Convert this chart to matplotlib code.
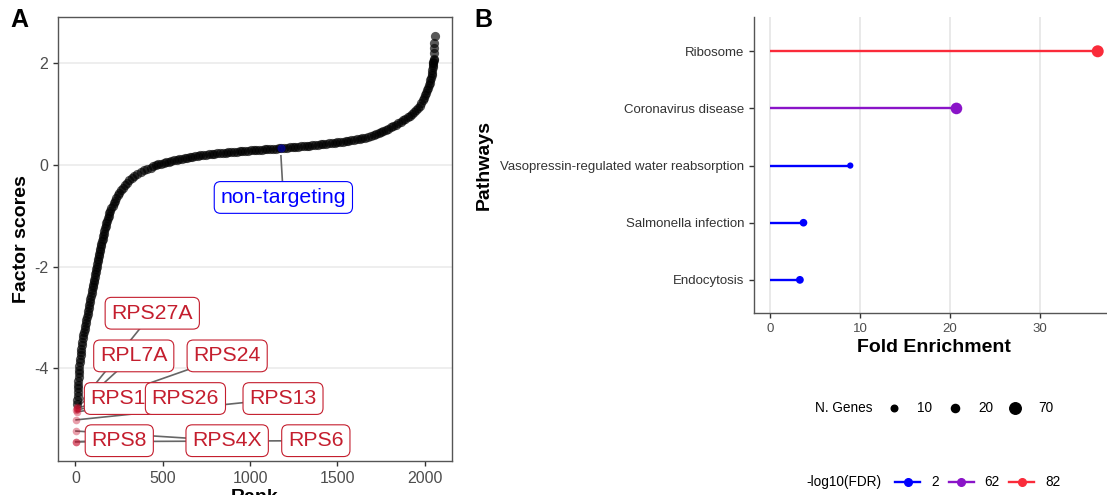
import numpy as np
import matplotlib.pyplot as plt
from matplotlib.lines import Line2D

plt.rcParams['font.family'] = ['Liberation Sans', 'DejaVu Sans']
plt.rcParams['axes.unicode_minus'] = False

# ---- panel A data: ranked factor scores ----
ranks = [10, 11, 12, 13, 14, 15, 16, 18, 19, 21, 23, 25, 27, 29, 31, 34, 37, 40, 43, 46,
         49, 52, 56, 60, 63, 67, 70, 74, 77, 80, 83, 86, 89, 92, 95, 98, 101, 104, 107, 110,
         113, 116, 119, 122, 125, 128, 131, 134, 137, 140, 143, 146, 149, 152, 155, 158, 162,
         165, 169, 173, 177, 181, 185, 190, 195, 200, 206, 213, 220, 227, 235, 243, 252, 261,
         271, 282, 294, 307, 322, 338, 355, 373, 392, 412,
         430, 445, 460, 475, 490, 505, 520, 535, 550, 565, 580, 595, 610, 625, 640, 655, 670,
         685, 700, 716, 732, 748, 764, 780, 796, 812, 828, 844, 860, 876, 892, 908, 924, 940,
         956, 972, 988, 1004, 1020, 1036, 1052, 1068, 1084, 1100, 1116, 1132, 1148, 1164,
         1180, 1196, 1212, 1228, 1244, 1260, 1276, 1292, 1308, 1324, 1340, 1356, 1372, 1388,
         1404, 1420, 1436, 1452, 1468, 1484, 1500, 1516, 1532, 1548, 1564, 1580, 1596, 1612,
         1628, 1644, 1660, 1676, 1692, 1708, 1722, 1736, 1750, 1764, 1778, 1792, 1806, 1820,
         1834, 1848, 1862, 1876, 1890, 1904, 1918, 1930, 1942, 1952,
         1962, 1972, 1981, 1989, 1996, 2003, 2009, 2015, 2020, 2025, 2029, 2033, 2037, 2040,
         2043, 2045, 2047, 2049, 2050, 2051, 2052, 2053, 2054, 2055, 2056, 2057]
scores = [-4.70, -4.62, -4.55, -4.47, -4.40, -4.33, -4.26, -4.18, -4.10, -4.03, -3.96, -3.89,
          -3.82, -3.75, -3.69, -3.62, -3.55, -3.48, -3.41, -3.35, -3.29, -3.23, -3.17, -3.11,
          -3.05, -2.99, -2.94, -2.88, -2.82, -2.76, -2.70, -2.64, -2.58, -2.52, -2.46, -2.41,
          -2.36, -2.31, -2.26, -2.21, -2.15, -2.10, -2.05, -2.00, -1.95, -1.90, -1.85, -1.80,
          -1.75, -1.70, -1.65, -1.60, -1.55, -1.50, -1.45, -1.40, -1.35, -1.30, -1.25, -1.20,
          -1.15, -1.10, -1.05, -1.00, -0.95, -0.90, -0.85, -0.80, -0.75, -0.70, -0.65, -0.60,
          -0.55, -0.50, -0.45, -0.40, -0.35, -0.30, -0.25, -0.21, -0.17, -0.13, -0.10, -0.07,
          -0.05, -0.03, -0.01, 0.01, 0.02, 0.04, 0.05, 0.06, 0.08, 0.09, 0.10, 0.11, 0.12,
          0.13, 0.14, 0.15, 0.16, 0.17, 0.18, 0.19, 0.20, 0.20, 0.21, 0.22, 0.22, 0.23, 0.23,
          0.24, 0.24, 0.25, 0.25, 0.26, 0.26, 0.27, 0.27, 0.28, 0.28, 0.29, 0.29, 0.30, 0.30,
          0.30, 0.31, 0.31, 0.32, 0.32, 0.32, 0.33, 0.33, 0.34, 0.34, 0.35, 0.35, 0.36, 0.36,
          0.37, 0.37, 0.38, 0.38, 0.39, 0.39, 0.40, 0.41, 0.41, 0.42, 0.43, 0.43, 0.44, 0.45,
          0.46, 0.46, 0.47, 0.48, 0.49, 0.50, 0.51, 0.52, 0.53, 0.54, 0.56, 0.57, 0.59, 0.61,
          0.63, 0.65, 0.67, 0.69, 0.71, 0.74, 0.76, 0.79, 0.82, 0.85, 0.88, 0.91, 0.94, 0.97,
          1.00, 1.04, 1.08,
          1.12, 1.17, 1.22, 1.27, 1.32, 1.37, 1.42, 1.47, 1.52, 1.57, 1.62, 1.67, 1.72, 1.77,
          1.82, 1.87, 1.92, 1.96, 2.00, 2.03, 2.06, 2.08, 2.20, 2.30, 2.40, 2.54]

# top hits (red) with their labels
hit_genes = ['RPS8', 'RPS6', 'RPS4X', 'RPS13', 'RPS19', 'RPS26', 'RPS24', 'RPL7A', 'RPS27A']
hit_ranks = [1, 2, 3, 4, 5, 6, 7, 8, 9]
hit_scores = [-5.45, -5.45, -5.24, -5.02, -4.83, -4.86, -4.80, -4.78, -4.76]
# label box centres (layout)
hit_lab_x = [251, 1377, 869, 1189, 280, 630, 869, 334, 440]
hit_lab_y = [-5.43, -5.43, -5.43, -4.60, -4.60, -4.60, -3.76, -3.76, -2.92]

ctrl_name = 'non-targeting'
ctrl_rank = 1177
ctrl_score = 0.33
ctrl_lab = (1191, -0.64)

# ---- panel B data ----
pathways = ['Endocytosis', 'Salmonella infection', 'Vasopressin-regulated water reabsorption',
            'Coronavirus disease', 'Ribosome']
fold_enrichment = [3.3, 3.7, 8.9, 20.7, 36.4]
n_genes = [17, 16, 9, 72, 80]
neglog_fdr = [2, 2, 2, 62, 82]
size_breaks = [10, 20, 70]
fdr_breaks = [2, 62, 82]
fdr_colors = {2: '#0000FF', 62: '#8A14C8', 82: '#FA2B3A'}

hit_red = '#C8102E'
lab_red = '#C41E2E'


def gene_size(n):
    # marker area (pt^2) from gene count, ggplot-like area scale
    d_px = 5.5 + 6.5 * np.sqrt((n - 8) / (80 - 8))
    return (d_px * 0.72) ** 2


fig = plt.figure(figsize=(11.07, 4.95), dpi=100)
W, H = 1107, 495

# ================= Panel A =================
axA = fig.add_axes([58 / W, 1 - 461 / H, (452 - 58) / W, (461 - 16.7) / H])
axA.scatter(ranks, scores, s=44, color='black', alpha=0.65, linewidths=0, zorder=3)
axA.scatter(hit_ranks, hit_scores, s=30, color=hit_red, alpha=0.4, linewidths=0, zorder=3)
axA.scatter([ctrl_rank], [ctrl_score], s=34, color='#0000FF', alpha=0.45, linewidths=0, zorder=4)

box = 'round,pad=0.3,rounding_size=0.3'
for i, g in enumerate(hit_genes):
    axA.plot([hit_ranks[i], hit_lab_x[i]], [hit_scores[i], hit_lab_y[i]],
             color='#666666', lw=1.2, zorder=2)
    axA.text(hit_lab_x[i], hit_lab_y[i], g, ha='center', va='center', fontsize=15.3,
             color=lab_red, zorder=6 + i,
             bbox=dict(boxstyle=box, fc='white', ec=lab_red, lw=0.8))
axA.plot([ctrl_rank, ctrl_lab[0]], [ctrl_score - 0.15, ctrl_lab[1]], color='#666666',
         lw=1.2, zorder=2)
axA.text(ctrl_lab[0], ctrl_lab[1], ctrl_name, ha='center', va='center', fontsize=15.3,
         color='#0000FF', zorder=20,
         bbox=dict(boxstyle=box, fc='white', ec='#0000FF', lw=0.8))

axA.set_xlim(-100, 2157)
axA.set_ylim(-5.83, 2.92)
axA.set_xticks([0, 500, 1000, 1500, 2000])
axA.set_yticks([-4, -2, 0, 2])
axA.grid(axis='y', color='#EBEBEB', lw=1.2)
axA.set_axisbelow(True)
for sp in axA.spines.values():
    sp.set_color('#555555')
    sp.set_linewidth(1.0)
axA.tick_params(labelsize=11.5, colors='#333333', labelcolor='#4D4D4D', length=3.5, width=1)
axA.set_xlabel('Rank', fontsize=14, fontweight='bold', labelpad=2)
axA.set_ylabel('Factor scores', fontsize=14, fontweight='bold', labelpad=3)

# ================= Panel B =================
axB = fig.add_axes([754 / W, 1 - 313 / H, (1113 - 754) / W, (313 - 17) / H])
ypos = np.arange(1, len(pathways) + 1)
cols = [fdr_colors[v] for v in neglog_fdr]
axB.hlines(ypos, 0, fold_enrichment, colors=cols, lw=1.7, zorder=3)
axB.scatter(fold_enrichment, ypos, s=[gene_size(n) for n in n_genes], c=cols,
            linewidths=0, zorder=4)
axB.set_xlim(-1.8, 38.1)
axB.set_ylim(0.42, 5.6)
axB.set_xticks([0, 10, 20, 30])
axB.set_yticks(ypos)
axB.set_yticklabels(pathways)
axB.grid(axis='x', color='#E5E5E5', lw=1.2)
axB.set_axisbelow(True)
axB.spines['top'].set_visible(False)
axB.spines['right'].set_visible(False)
for sp in ['left', 'bottom']:
    axB.spines[sp].set_color('#555555')
    axB.spines[sp].set_linewidth(1.0)
axB.tick_params(labelsize=9.5, colors='#333333', labelcolor='#333333', length=3.5, width=1)
axB.tick_params(axis='x', labelcolor='#4D4D4D')
axB.set_xlabel('Fold Enrichment', fontsize=14, fontweight='bold', labelpad=3)
axB.set_ylabel('Pathways', fontsize=14, fontweight='bold', labelpad=5)

# panel tags
fig.text(10 / W, 1 - 8 / H, 'A', fontsize=18, fontweight='bold', va='top', ha='left')
fig.text(474 / W, 1 - 8 / H, 'B', fontsize=18, fontweight='bold', va='top', ha='left')

# ---- legends (drawn in figure coordinates) ----
y1 = 1 - 408 / H
fig.text(815 / W, y1, 'N. Genes', fontsize=9.8, va='center', ha='left')
for xk, b in zip([894, 955, 1015], size_breaks):
    fig.add_artist(Line2D([xk / W], [y1], marker='o', color='black', ls='none',
                          markersize=np.sqrt(gene_size(b)), transform=fig.transFigure))
    fig.text((xk + 23) / W, y1, str(b), fontsize=9.8, va='center', ha='left')

y2 = 1 - 482 / H
fig.text(806 / W, y2, '-log10(FDR)', fontsize=9.8, va='center', ha='left')
for xk, b in zip([907.5, 961, 1021.5], fdr_breaks):
    c = fdr_colors[b]
    fig.add_artist(Line2D([(xk - 12.5) / W, (xk + 12.5) / W], [y2, y2], color=c, lw=1.7,
                          transform=fig.transFigure))
    fig.add_artist(Line2D([xk / W], [y2], marker='o', color=c, ls='none', markersize=5.5,
                          transform=fig.transFigure))
    fig.text((xk + 23.5) / W, y2, str(b), fontsize=9.8, va='center', ha='left')

fig.savefig('out.png', dpi=100)
